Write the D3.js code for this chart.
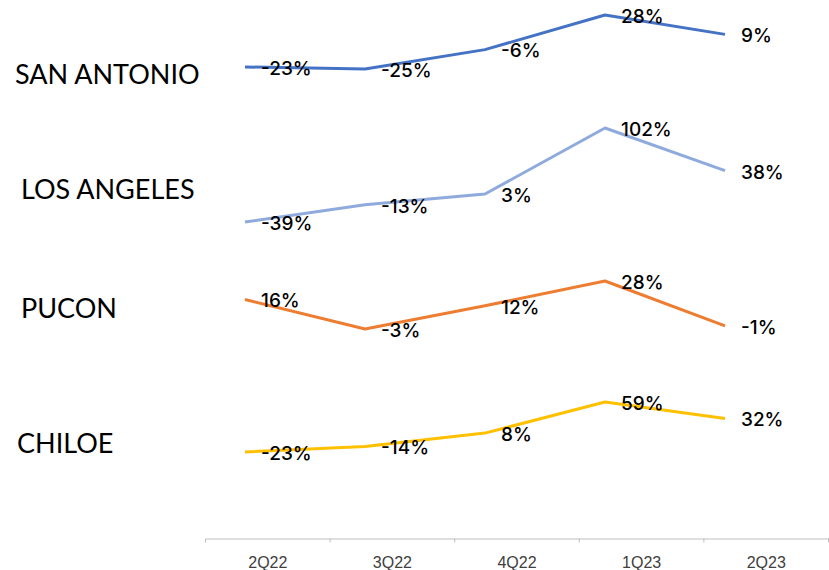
<!DOCTYPE html>
<html>
<head>
<meta charset="utf-8">
<script src="https://cdn.jsdelivr.net/npm/d3@7"></script>
<style>
  body { margin: 0; background: #fff; }
  svg { display: block; }
</style>
</head>
<body>
<div id="chart"></div>
<script>
////////////////////////////////////////////////////////////////////////////////
////////////////////////////////////////////////////////////////////////// Data
////////////////////////////////////////////////////////////////////////////////

const quarters = ["2Q22", "3Q22", "4Q22", "1Q23", "2Q23"];
const seriesNames = ["SAN ANTONIO", "LOS ANGELES", "PUCON", "CHILOE"];

const sanAntonio = [-23, -25, -6, 28, 9];
const losAngeles = [-39, -13, 3, 102, 38];
const pucon = [16, -3, 12, 28, -1];
const chiloe = [-23, -14, 8, 59, 32];

const seriesValues = [sanAntonio, losAngeles, pucon, chiloe];
const seriesColors = ["#4472C4", "#8FAADC", "#ED7D31", "#FFC000"];

// each city is its own little chart: top / bottom of its band (px)
const bandTop = [15, 128, 281, 402];
const bandBottom = [69, 222, 329, 452];
const nameBaseline = [84, 199, 318, 453];
const nameX = [15, 21, 21, 17];

////////////////////////////////////////////////////////////////////////////////
///////////////////////////////////////////////////////////////////// SVG setup
////////////////////////////////////////////////////////////////////////////////

const width = 829;
const height = 570;

const svg = d3.select("#chart")
              .append("svg")
                .attr("width", width)
                .attr("height", height);

svg.append("rect")
   .attr("width", width)
   .attr("height", height)
   .attr("fill", "#fff");

// X-axis (category bands)
const xBand = d3.scaleBand()
                .domain(quarters)
                .range([205.5, 828.5]);

const xAxis = d3.axisBottom(xBand)
                .tickSize(0)
                .tickPadding(0);

const axisG = svg.append("g")
                 .attr("transform", "translate(0, 538.5)")
                 .call(xAxis);

axisG.select(".domain")
     .attr("stroke", "#BFBFBF")
     .attr("stroke-width", 1);

axisG.selectAll(".tick text")
     .attr("y", 29.5)
     .attr("dy", 0)
     .style("font-family", "'Liberation Sans', Arial, sans-serif")
     .style("font-size", "16px")
     .attr("fill", "#404040");

// tick marks at band edges
axisG.selectAll(".edge")
     .data(quarters.concat(["end"]))
     .join("line")
       .attr("class", "edge")
       .attr("x1", (d, i) => xBand.range()[0] + i * xBand.step())
       .attr("x2", (d, i) => xBand.range()[0] + i * xBand.step())
       .attr("y1", 0)
       .attr("y2", 4)
       .attr("stroke", "#BFBFBF");

// Point scale for the lines (they sit left of the band centres)
const xPoint = d3.scalePoint()
                 .domain(quarters)
                 .range([245, 725]);

////////////////////////////////////////////////////////////////////////////////
///////////////////////////////////////////////////////////////////////// Lines
////////////////////////////////////////////////////////////////////////////////

seriesNames.forEach(function(name, s) {
  const values = seriesValues[s];
  const yScale = d3.scaleLinear()
                   .domain(d3.extent(values))
                   .range([bandBottom[s], bandTop[s]]);

  const g = svg.append("g").attr("class", "series");

  g.append("path")
   .datum(values)
   .attr("fill", "none")
   .attr("stroke", seriesColors[s])
   .attr("stroke-width", 3)
   .attr("stroke-linejoin", "round")
   .attr("d", d3.line()
                .x((d, i) => xPoint(quarters[i]))
                .y(d => yScale(d)));

  g.selectAll(".label")
   .data(values)
   .join("text")
     .attr("class", "label")
     .attr("x", (d, i) => xPoint(quarters[i]) + 16)
     .attr("y", d => yScale(d) + 1)
     .attr("dy", "0.36em")
     .style("font-family", "Inter, 'Open Sans', sans-serif")
     .style("font-size", "19px")
     .style("font-weight", 500)
     .attr("fill", "#000")
     .text(d => d + "%");

  svg.append("text")
     .attr("x", nameX[s])
     .attr("y", nameBaseline[s])
     .style("font-family", "Lato, 'Open Sans', sans-serif")
     .style("font-size", "27px")
     .attr("fill", "#000")
     .text(name);
});
</script>
</body>
</html>
